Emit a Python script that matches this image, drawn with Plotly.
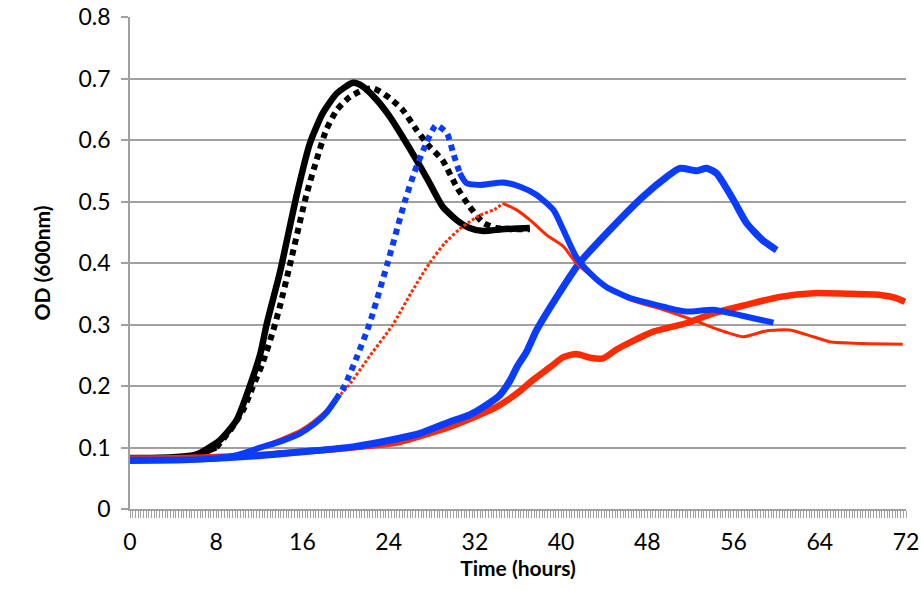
import plotly.graph_objects as go

# ---------------- data ----------------
t_black_solid = [0, 2, 4, 6, 6.5, 8.35, 9.9, 11.1, 12.1, 12.7, 13.9, 15.5, 16.7, 17.9, 19.2, 20.7,
                 21.6, 22.9, 24.1, 25.3, 26.6, 27.8, 29.0, 30.3, 31.5, 32.8, 34.5, 36.0, 37.1]
v_black_solid = [0.083, 0.083, 0.084, 0.088, 0.091, 0.112, 0.145, 0.199, 0.253, 0.302, 0.384, 0.513,
                 0.595, 0.644, 0.676, 0.693, 0.687, 0.665, 0.638, 0.605, 0.567, 0.530, 0.492, 0.470,
                 0.457, 0.452, 0.455, 0.456, 0.457]

t_black_dot = [0, 4, 6, 8, 9.3, 10.5, 11.4, 12.3, 13.3, 13.9, 14.8, 16.4, 17.3, 18.2, 19.2, 20.4,
               21.6, 22.6, 24.1, 25.3, 26.6, 27.8, 29.0, 30.3, 31.5, 32.8, 34.0, 35.5, 37.1]
v_black_dot = [0.083, 0.083, 0.086, 0.100, 0.128, 0.161, 0.199, 0.237, 0.291, 0.329, 0.394, 0.513,
               0.567, 0.616, 0.649, 0.670, 0.681, 0.684, 0.668, 0.649, 0.616, 0.589, 0.567, 0.524,
               0.492, 0.465, 0.457, 0.455, 0.455]

t_blue_dot = [0, 4, 8, 10, 12.3, 14, 15.8, 17, 18.2, 19.1, 19.9, 21.0, 22.2, 23.9, 25.5, 26.4, 27.5,
              28.4, 29.4, 30.0, 30.6, 31.2, 32.5, 34.6, 36.2, 37.7, 39.3, 40.2, 41.4, 42.7, 44.2,
              46.4, 49.5, 51.6, 54.1, 56.6, 59.7]
v_blue_dot = [0.080, 0.080, 0.082, 0.088, 0.101, 0.110, 0.123, 0.137, 0.156, 0.178, 0.200, 0.245,
              0.300, 0.400, 0.500, 0.548, 0.595, 0.624, 0.611, 0.578, 0.546, 0.530, 0.527, 0.531,
              0.524, 0.511, 0.486, 0.454, 0.410, 0.383, 0.361, 0.343, 0.329, 0.321, 0.324, 0.315,
              0.303]

t_red_thin = [0, 6, 10, 12.3, 14, 15.8, 17, 18.2, 19.2, 20.25, 22.3, 24.4, 26.1, 27.8, 29.2, 30.5,
              31.5, 32.5, 33.8, 34.6, 35.9, 37.1, 38.7, 40.2, 41.4, 43.3, 46.4, 49.5, 52.6, 54.7,
              56.9, 59.1, 61.2, 63.4, 64.9, 68.0, 71.7]
v_red_thin = [0.083, 0.084, 0.088, 0.102, 0.114, 0.128, 0.142, 0.160, 0.180, 0.200, 0.250, 0.300,
              0.352, 0.400, 0.432, 0.454, 0.467, 0.478, 0.487, 0.497, 0.486, 0.470, 0.445, 0.427,
              0.400, 0.372, 0.340, 0.324, 0.305, 0.291, 0.280, 0.290, 0.291, 0.280, 0.272, 0.269,
              0.268]

t_blue_solid = [0, 5, 11.4, 16, 20.7, 25, 26.9, 29.7, 31.5, 32.8, 34.3, 35.3, 35.9, 36.8, 37.7, 39.6,
                41.7, 44.8, 47.6, 49.8, 51.0, 52.6, 53.5, 54.4, 56.0, 57.2, 58.7, 60.0]
v_blue_solid = [0.079, 0.080, 0.086, 0.093, 0.101, 0.115, 0.123, 0.142, 0.153, 0.166, 0.185, 0.210,
                0.231, 0.256, 0.290, 0.345, 0.400, 0.459, 0.508, 0.540, 0.554, 0.550, 0.554, 0.546,
                0.502, 0.465, 0.437, 0.421]

t_red_solid = [0, 5, 11.4, 16, 20.7, 25, 29.7, 32.8, 34.3, 35.9, 37.4, 39.0, 40.2, 41.4, 42.7, 43.9,
               45.1, 46.4, 48.5, 51.6, 54.1, 57.2, 60.3, 63.4, 66.5, 69.6, 71.1, 71.9]
v_red_solid = [0.082, 0.083, 0.087, 0.093, 0.100, 0.109, 0.134, 0.156, 0.169, 0.188, 0.210, 0.231,
               0.247, 0.252, 0.246, 0.245, 0.259, 0.271, 0.288, 0.302, 0.318, 0.332, 0.345, 0.351,
               0.350, 0.348, 0.343, 0.337]

x_tick_vals = [0, 8, 16, 24, 32, 40, 48, 56, 64, 72]
y_tick_vals = [0, 0.1, 0.2, 0.3, 0.4, 0.5, 0.6, 0.7, 0.8]

# ---------------- styling ----------------
GRID = "#A0A0A0"
FONT = "Lato"
BLUE = "#0A3CFF"
RED = "#FF2A00"

fig = go.Figure()


def add_series(t, v, color, width, dotted=None, dash="6px,5px"):
    line = dict(color=color, width=width, shape="spline", smoothing=0.6)
    if dotted is None:
        fig.add_trace(go.Scatter(x=t, y=v, mode="lines", line=line, hoverinfo="skip"))
        return
    a, b = dotted
    ys = [y if (x <= a or x >= b) else None for x, y in zip(t, v)]
    yd = [y if (a <= x <= b) else None for x, y in zip(t, v)]
    fig.add_trace(go.Scatter(x=t, y=ys, mode="lines", connectgaps=False, line=line, hoverinfo="skip"))
    fig.add_trace(go.Scatter(x=t, y=yd, mode="lines", connectgaps=False,
                             line=dict(line, dash=dash), hoverinfo="skip"))


add_series(t_black_solid, v_black_solid, "#000000", 6.5)
add_series(t_black_dot, v_black_dot, "#000000", 6, dotted=(8, 37.1), dash="6px,5px")
add_series(t_red_solid, v_red_solid, RED, 6.5)
add_series(t_blue_solid, v_blue_solid, BLUE, 7)
add_series(t_red_thin, v_red_thin, RED, 3, dotted=(19.2, 34.6), dash="3px,2px")
add_series(t_blue_dot, v_blue_dot, BLUE, 6, dotted=(19.1, 30.6), dash="6px,5px")

fig.update_layout(
    width=921, height=590,
    margin=dict(l=130, r=15, t=17, b=81),
    paper_bgcolor="white", plot_bgcolor="white",
    showlegend=False,
    font=dict(family=FONT, size=23, color="#000000"),
)

fig.update_xaxes(
    range=[0, 72], tickvals=x_tick_vals, ticktext=[str(v) for v in x_tick_vals],
    showgrid=False, zeroline=False, automargin=False,
    showline=True, linecolor=GRID, linewidth=1.5,
    ticks="outside", ticklen=7, tickcolor=GRID, tickwidth=1,
    minor=dict(dtick=0.25, ticks="outside", ticklen=7, tickcolor=GRID, tickwidth=1, showgrid=False),
    ticklabelstandoff=5,
    tickfont=dict(family=FONT, size=23),
    title=dict(text="<b>Time (hours)</b>", font=dict(family=FONT, size=21), standoff=6),
)

fig.update_yaxes(
    range=[0, 0.8], tickvals=y_tick_vals,
    ticktext=["0" if v == 0 else f"{v:.1f}" for v in y_tick_vals],
    showgrid=True, gridcolor=GRID, gridwidth=1.5, zeroline=False, automargin=False,
    showline=True, linecolor=GRID, linewidth=1.5,
    ticks="outside", ticklen=7, tickcolor=GRID, tickwidth=1.5,
    ticklabelstandoff=6,
    tickfont=dict(family=FONT, size=23),
    title=dict(text="<b>OD (600nm)</b>", font=dict(family=FONT, size=21), standoff=22),
)

fig.write_html("out.html")
